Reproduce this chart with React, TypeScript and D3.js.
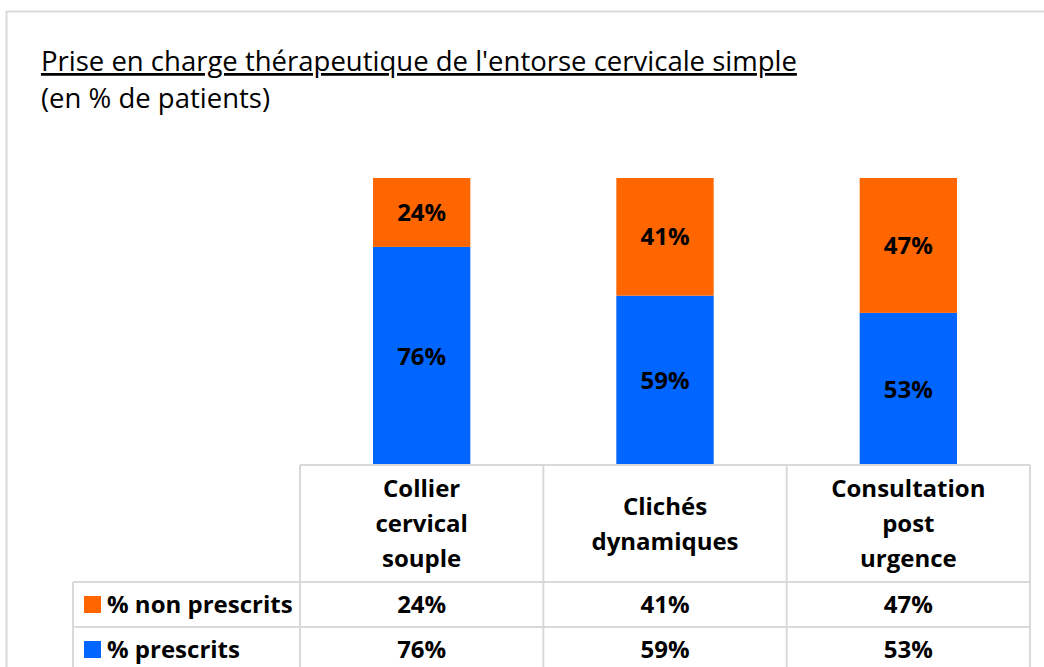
import * as d3 from 'd3';
import { useEffect, useRef } from 'react';

const categories = [
  ['Collier', 'cervical', 'souple'],
  ['Clichés', 'dynamiques'],
  ['Consultation', 'post', 'urgence'],
];
const seriesNames = ['% non prescrits', '% prescrits'];
const nonPrescrits = [24, 41, 47];
const prescrits = [76, 59, 53];

const title = "Prise en charge thérapeutique de l'entorse cervicale simple";
const subtitle = '(en % de patients)';

export default function App() {
  const ref = useRef<SVGSVGElement | null>(null);

  useEffect(() => {
    const svg = d3.select(ref.current);
    svg.selectAll('*').remove();

    const width = 1044, height = 667;
    const font = '"Open Sans", Lato, sans-serif';
    const gridColor = '#d9d9d9';
    const colors = { non: '#ff6600', pres: '#0066ff' };
    const boldSize = '24px';
    const titleSize = '27.5px';

    // frame
    svg.append('path')
      .attr('d', `M6.5,${height + 5} V11.5 H${width + 5}`)
      .attr('fill', 'none')
      .attr('stroke', gridColor)
      .attr('stroke-width', 2);

    // title
    svg.append('text')
      .attr('x', 41)
      .attr('y', 71)
      .style('font-family', font)
      .style('font-size', titleSize)
      .attr('fill', '#000')
      .attr('text-decoration', 'underline')
      .text(title);
    svg.append('text')
      .attr('x', 41)
      .attr('y', 108)
      .style('font-family', font)
      .style('font-size', titleSize)
      .attr('fill', '#000')
      .text(subtitle);

    const tableLeft = 73, colLeft = 300, colRight = 1030;
    const plotTop = 178, plotBottom = 465;
    const headerBottom = 582, row1Bottom = 627, row2Bottom = 680;

    const idx = categories.map((_, i) => i);
    const x = d3.scaleBand<number>().domain(idx).range([colLeft, colRight]).padding(0);
    const y = d3.scaleLinear().domain([0, 100]).range([plotBottom, plotTop]);
    const barW = x.bandwidth() * 0.4;

    const rows = idx.map(i => ({ i, pres: prescrits[i], non: nonPrescrits[i] }));
    const stack = d3.stack<any>().keys(['pres', 'non']);
    const layers = stack(rows);

    const g = svg.append('g');
    layers.forEach(layer => {
      const key = layer.key as 'pres' | 'non';
      layer.forEach(d => {
        const cx = x(d.data.i)! + x.bandwidth() / 2;
        g.append('rect')
          .attr('x', cx - barW / 2)
          .attr('y', y(d[1]))
          .attr('width', barW)
          .attr('height', y(d[0]) - y(d[1]))
          .attr('fill', colors[key]);
        g.append('text')
          .attr('x', cx)
          .attr('y', (y(d[0]) + y(d[1])) / 2)
          .attr('dy', '0.36em')
          .attr('text-anchor', 'middle')
          .style('font-family', font)
          .style('font-size', boldSize)
          .style('font-weight', 'bold')
          .text(`${d.data[key]}%`);
      });
    });

    // data table
    const lines = svg.append('g')
      .attr('stroke', gridColor)
      .attr('stroke-width', 2)
      .attr('fill', 'none');
    lines.append('line').attr('x1', colLeft).attr('x2', colRight).attr('y1', plotBottom).attr('y2', plotBottom);
    lines.append('line').attr('x1', tableLeft).attr('x2', colRight).attr('y1', headerBottom).attr('y2', headerBottom);
    lines.append('line').attr('x1', tableLeft).attr('x2', colRight).attr('y1', row1Bottom).attr('y2', row1Bottom);
    lines.append('line').attr('x1', tableLeft).attr('x2', tableLeft).attr('y1', headerBottom).attr('y2', row2Bottom);
    [...idx.map(i => x(i)!), colRight].forEach(xx => {
      lines.append('line').attr('x1', xx).attr('x2', xx).attr('y1', plotBottom).attr('y2', row2Bottom);
    });

    // header cells
    const lineH = 35;
    categories.forEach((cat, i) => {
      const cx = x(i)! + x.bandwidth() / 2;
      const cy = (plotBottom + headerBottom) / 2;
      const start = cy - ((cat.length - 1) * lineH) / 2;
      const txt = svg.append('text')
        .attr('text-anchor', 'middle')
        .style('font-family', font)
        .style('font-size', boldSize)
        .style('font-weight', 'bold');
      cat.forEach((w, k) => {
        txt.append('tspan')
          .attr('x', cx)
          .attr('y', start + k * lineH)
          .attr('dy', '0.36em')
          .text(w);
      });
    });

    // value rows
    const tableRows = [
      { name: seriesNames[0], values: nonPrescrits, color: colors.non, top: headerBottom, bottom: row1Bottom },
      { name: seriesNames[1], values: prescrits, color: colors.pres, top: row1Bottom, bottom: row1Bottom + 45 },
    ];
    tableRows.forEach(r => {
      const cy = (r.top + r.bottom) / 2;
      svg.append('rect')
        .attr('x', 84).attr('y', cy - 8.5)
        .attr('width', 17).attr('height', 17)
        .attr('fill', r.color);
      svg.append('text')
        .attr('x', 107).attr('y', cy).attr('dy', '0.36em')
        .style('font-family', font)
        .style('font-size', boldSize)
        .style('font-weight', 'bold')
        .text(r.name);
      r.values.forEach((v, i) => {
        svg.append('text')
          .attr('x', x(i)! + x.bandwidth() / 2).attr('y', cy).attr('dy', '0.36em')
          .attr('text-anchor', 'middle')
          .style('font-family', font)
          .style('font-size', boldSize)
          .style('font-weight', 'bold')
          .text(`${v}%`);
      });
    });
  }, []);

  return (
    <svg
      ref={ref}
      width={1044}
      height={667}
      style={{ position: 'absolute', left: 0, top: 0, background: '#fff', display: 'block' }}
    />
  );
}
